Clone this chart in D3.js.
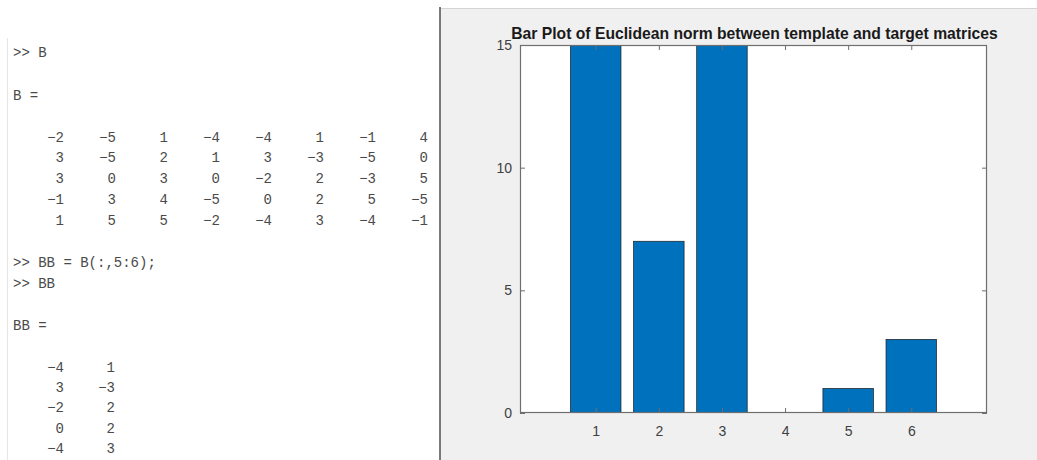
<!DOCTYPE html>
<html>
<head>
<meta charset="utf-8">
<script src="https://cdn.jsdelivr.net/npm/d3@7"></script>
<style>
  html, body { margin: 0; padding: 0; background: #ffffff; }
  svg { display: block; }
</style>
</head>
<body>
<svg id="chart" width="1037" height="460"></svg>
<script>
// ---------- data ----------
const categories = [1, 2, 3, 4, 5, 6];
const values = [16, 7, 16, 0, 1, 3];          // bars 1 and 3 run past the 15 limit (clipped)
const yTicks = [0, 5, 10, 15];
const xTicks = [1, 2, 3, 4, 5, 6];
const titleText = "Bar Plot of Euclidean norm between template and target matrices";

const matrixB = [
  [-2, -5, 1, -4, -4, 1, -1, 4],
  [3, -5, 2, 1, 3, -3, -5, 0],
  [3, 0, 3, 0, -2, 2, -3, 5],
  [-1, 3, 4, -5, 0, 2, 5, -5],
  [1, 5, 5, -2, -4, 3, -4, -1]
];
const matrixBB = [
  [-4, 1],
  [3, -3],
  [-2, 2],
  [0, 2],
  [-4, 3]
];
const commandLines = [">> B", "B =", ">> BB = B(:,5:6);", ">> BB", "BB ="];

// ---------- layout ----------
const svg = d3.select("#chart");
const W = 1037, H = 460;
const divX = 440;
const plot = { left: 520, right: 987, top: 45, bottom: 413 };

// left panel (command window)
svg.append("rect").attr("x", 0).attr("y", 0).attr("width", divX).attr("height", H).attr("fill", "#ffffff");
svg.append("line").attr("x1", 7.5).attr("x2", 7.5).attr("y1", 38).attr("y2", H)
  .attr("stroke", "#e6e6e6").attr("stroke-width", 1);

// right panel (figure)
svg.append("rect").attr("x", divX).attr("y", 8).attr("width", W - divX).attr("height", H - 8).attr("fill", "#f0f0f0");
svg.append("line").attr("x1", divX).attr("x2", W).attr("y1", 8.5).attr("y2", 8.5)
  .attr("stroke", "#d4d4d4").attr("stroke-width", 1);
svg.append("line").attr("x1", divX).attr("x2", divX).attr("y1", 7).attr("y2", H)
  .attr("stroke", "#5a5a5a").attr("stroke-width", 1.6);

// ---------- command window text ----------
const mono = "'Liberation Mono', 'DejaVu Sans Mono', monospace";
const txtColor = "#4a4a4a";
const cmdY = [57, 100, 267, 288, 330];
const cw = svg.append("g").attr("font-family", mono).attr("font-size", 14).attr("fill", txtColor);
commandLines.forEach((t, i) => {
  cw.append("text").attr("x", 13).attr("y", cmdY[i]).attr("xml:space", "preserve").text(t);
});
const colRight = d3.range(8).map(i => 64 + 52 * i);
const rowYB = [142, 162, 183, 204, 225];
matrixB.forEach((row, r) => {
  row.forEach((v, c) => {
    cw.append("text").attr("x", colRight[c]).attr("y", rowYB[r]).attr("text-anchor", "end")
      .text(String(v).replace("-", "\u2212"));
  });
});
const rowYBB = [372, 392, 412, 433, 453];
matrixBB.forEach((row, r) => {
  row.forEach((v, c) => {
    cw.append("text").attr("x", colRight[c] - (c === 1 ? 1 : 0)).attr("y", rowYBB[r]).attr("text-anchor", "end")
      .text(String(v).replace("-", "\u2212"));
  });
});

// ---------- bar chart ----------
const x = d3.scaleLinear().domain([-0.2, 7.2]).range([plot.left, plot.right]);
const y = d3.scaleLinear().domain([0, 15]).range([plot.bottom, plot.top]);
const barW = x(0.8) - x(0);

svg.append("rect").attr("x", plot.left).attr("y", plot.top)
  .attr("width", plot.right - plot.left).attr("height", plot.bottom - plot.top).attr("fill", "#ffffff");

svg.append("clipPath").attr("id", "clip").append("rect")
  .attr("x", plot.left).attr("y", plot.top)
  .attr("width", plot.right - plot.left).attr("height", plot.bottom - plot.top);

svg.append("g").attr("clip-path", "url(#clip)")
  .selectAll("rect").data(categories.map((c, i) => ({ c, v: values[i] })).filter(d => d.v > 0))
  .join("rect")
  .attr("x", d => x(d.c) - barW / 2)
  .attr("y", d => y(d.v))
  .attr("width", barW)
  .attr("height", d => y(0) - y(d.v))
  .attr("fill", "#0072BD")
  .attr("stroke", "#1a1a1a")
  .attr("stroke-width", 0.7);

const font = "'Liberation Sans', Arial, Helvetica, sans-serif";
const axisColor = "#6e6e6e";
const tickLen = 5;

function styleAxis(g) {
  g.select(".domain").remove();
  g.selectAll(".tick line").attr("stroke", axisColor);
  g.selectAll(".tick text").attr("fill", "#404040").attr("font-family", font).attr("font-size", 14);
}

svg.append("g").attr("transform", `translate(0,${plot.bottom})`)
  .call(d3.axisBottom(x).tickValues(xTicks).tickSize(-tickLen).tickPadding(10).tickFormat(d3.format("d")))
  .call(styleAxis)
  .selectAll(".tick text").attr("dy", "0.9em");

svg.append("g").attr("transform", `translate(0,${plot.top})`)
  .call(d3.axisTop(x).tickValues(xTicks).tickSize(-tickLen).tickFormat(""))
  .call(styleAxis);

svg.append("g").attr("transform", `translate(${plot.left},0)`)
  .call(d3.axisLeft(y).tickValues(yTicks).tickSize(-tickLen).tickPadding(8).tickFormat(d3.format("d")))
  .call(styleAxis);

svg.append("g").attr("transform", `translate(${plot.right},0)`)
  .call(d3.axisRight(y).tickValues(yTicks).tickSize(-tickLen).tickFormat(""))
  .call(styleAxis);

svg.append("rect").attr("x", plot.left + 0.5).attr("y", plot.top + 0.5)
  .attr("width", plot.right - plot.left - 1).attr("height", plot.bottom - plot.top - 1)
  .attr("fill", "none").attr("stroke", axisColor).attr("stroke-width", 1.2);

// title, fitted to the reference width
const title = svg.append("text")
  .attr("x", (511 + 998) / 2).attr("y", 39)
  .attr("text-anchor", "middle")
  .attr("font-family", font).attr("font-weight", "bold").attr("font-size", 14)
  .attr("fill", "#1a1a1a")
  .text(titleText);
const tw = title.node().getComputedTextLength();
title.attr("font-size", 14 * (998 - 511) / tw);
</script>
</body>
</html>
